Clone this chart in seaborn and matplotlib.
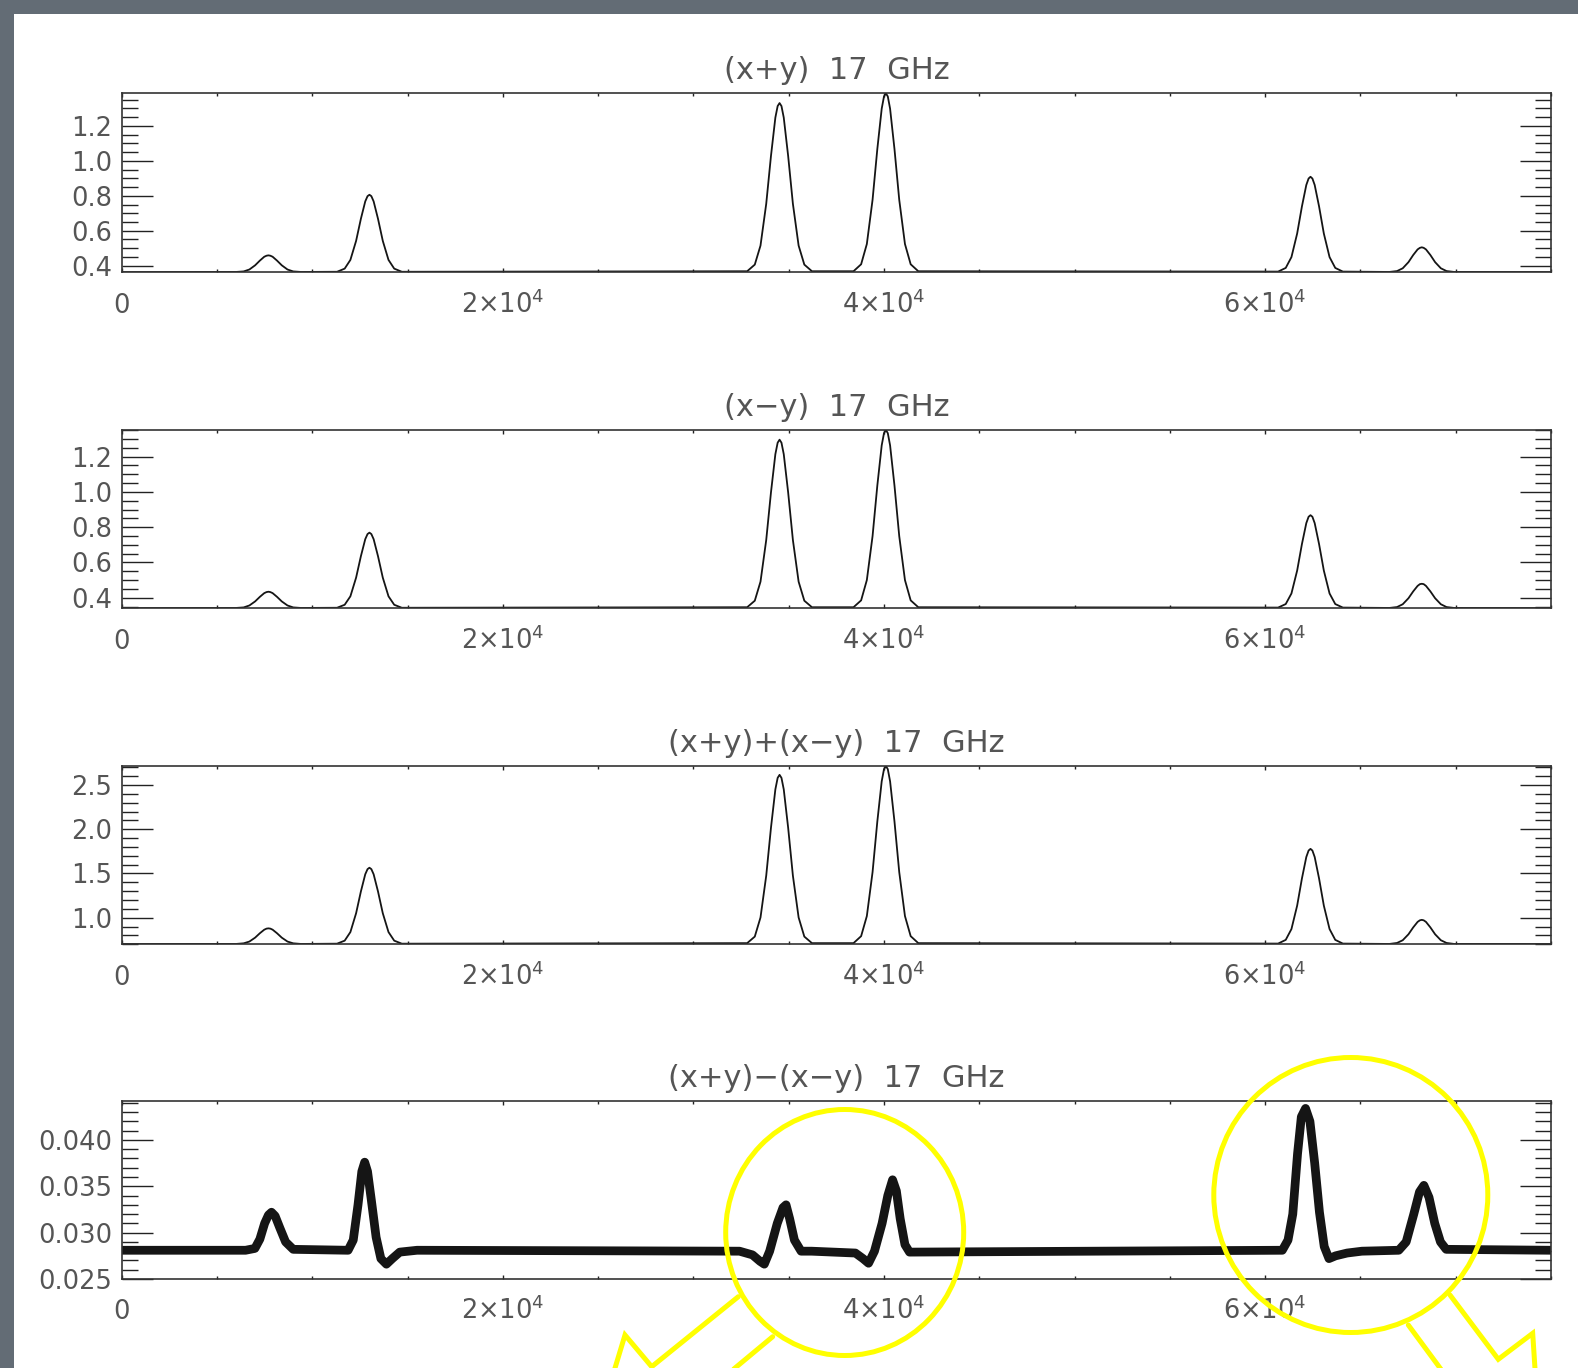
import matplotlib
matplotlib.use('Agg')
import matplotlib.pyplot as plt
import seaborn as sns
from matplotlib.ticker import FixedLocator, MultipleLocator
from matplotlib.patches import Rectangle, Ellipse
from matplotlib.lines import Line2D

sns.set_theme(style='ticks')
plt.rcParams['font.family'] = ['DejaVu Sans']
plt.rcParams['mathtext.default'] = 'regular'

# ---------------- data ----------------
titles = ['(x+y)  17  GHz', '(x\u2212y)  17  GHz',
          '(x+y)+(x\u2212y)  17  GHz', '(x+y)\u2212(x\u2212y)  17  GHz']

x_ticks = [0, 20000, 40000, 60000]
x_tick_labels = ['0', '2\u00d710$^{4}$', '4\u00d710$^{4}$', '6\u00d710$^{4}$']

x_main = [0,
          6000, 6400, 6700, 7000, 7250, 7480, 7600, 7700, 7800, 7920, 8150, 8400, 8700, 9000, 9400,
          11300, 11700, 12000, 12300, 12550, 12780, 12900, 13000, 13100, 13220, 13450, 13700, 14000, 14300, 14700,
          32820, 33220, 33520, 33820, 34070, 34300, 34420, 34520, 34620, 34740, 34970, 35220, 35520, 35820, 36220,
          38400, 38800, 39100, 39400, 39650, 39880, 40000, 40100, 40200, 40320, 40550, 40800, 41100, 41400, 41800,
          60680, 61080, 61380, 61680, 61930, 62160, 62280, 62380, 62480, 62600, 62830, 63080, 63380, 63680, 64080,
          66520, 66920, 67220, 67520, 67770, 68000, 68120, 68220, 68320, 68440, 68670, 68920, 69220, 69520, 69920,
          75000]

y_xpy = [0.363,
         0.364, 0.367, 0.378, 0.402, 0.429, 0.451, 0.457, 0.459, 0.457, 0.451, 0.429, 0.402, 0.378, 0.367, 0.364,
         0.365, 0.383, 0.433, 0.542, 0.668, 0.768, 0.798, 0.806, 0.798, 0.768, 0.668, 0.542, 0.433, 0.383, 0.365,
         0.368, 0.406, 0.515, 0.754, 1.029, 1.248, 1.314, 1.331, 1.314, 1.248, 1.029, 0.754, 0.515, 0.406, 0.368,
         0.368, 0.408, 0.524, 0.777, 1.068, 1.299, 1.369, 1.387, 1.369, 1.299, 1.068, 0.777, 0.524, 0.408, 0.368,
         0.366, 0.387, 0.449, 0.584, 0.739, 0.862, 0.899, 0.909, 0.899, 0.862, 0.739, 0.584, 0.449, 0.387, 0.366,
         0.364, 0.369, 0.385, 0.420, 0.461, 0.493, 0.502, 0.505, 0.502, 0.493, 0.461, 0.420, 0.385, 0.369, 0.364,
         0.363]

y_xmy = [0.341,
         0.342, 0.345, 0.356, 0.379, 0.405, 0.426, 0.432, 0.434, 0.432, 0.426, 0.405, 0.379, 0.356, 0.345, 0.342,
         0.343, 0.360, 0.408, 0.514, 0.635, 0.732, 0.761, 0.769, 0.761, 0.732, 0.635, 0.514, 0.408, 0.360, 0.343,
         0.346, 0.383, 0.491, 0.727, 0.998, 1.214, 1.279, 1.296, 1.279, 1.214, 0.998, 0.727, 0.491, 0.383, 0.346,
         0.346, 0.385, 0.500, 0.749, 1.036, 1.264, 1.333, 1.351, 1.333, 1.264, 1.036, 0.749, 0.500, 0.385, 0.346,
         0.344, 0.364, 0.424, 0.554, 0.704, 0.823, 0.859, 0.868, 0.859, 0.823, 0.704, 0.554, 0.424, 0.364, 0.344,
         0.342, 0.347, 0.363, 0.397, 0.436, 0.467, 0.477, 0.479, 0.477, 0.467, 0.436, 0.397, 0.363, 0.347, 0.342,
         0.341]

y_sum = [0.703,
         0.704, 0.711, 0.731, 0.775, 0.825, 0.865, 0.877, 0.880, 0.877, 0.865, 0.825, 0.775, 0.731, 0.711, 0.704,
         0.707, 0.741, 0.838, 1.051, 1.296, 1.491, 1.549, 1.565, 1.549, 1.491, 1.296, 1.051, 0.838, 0.741, 0.707,
         0.713, 0.787, 1.003, 1.475, 2.018, 2.450, 2.580, 2.614, 2.580, 2.450, 2.018, 1.475, 1.003, 0.787, 0.713,
         0.713, 0.792, 1.019, 1.515, 2.087, 2.541, 2.678, 2.714, 2.678, 2.541, 2.087, 1.515, 1.019, 0.792, 0.713,
         0.708, 0.750, 0.872, 1.137, 1.443, 1.686, 1.759, 1.778, 1.759, 1.686, 1.443, 1.137, 0.872, 0.750, 0.708,
         0.704, 0.715, 0.746, 0.813, 0.891, 0.953, 0.971, 0.976, 0.971, 0.953, 0.891, 0.813, 0.746, 0.715, 0.704,
         0.703]

x_diff = [0,
          6500, 6990, 7250, 7500, 7700, 7860, 8050, 8300, 8600, 9000,
          11880, 12150, 12400, 12600, 12750, 12900, 13100, 13350, 13600, 13890, 14200, 14590, 15500,
          32420, 33100, 33500, 33720, 34000, 34400, 34700, 34860, 35050, 35300, 35650, 36200,
          38500, 38900, 39190, 39500, 39900, 40200, 40450, 40650, 40850, 41100, 41340,
          60900, 61200, 61450, 61700, 61900, 62120, 62350, 62600, 62850, 63100, 63350, 63700, 64300, 65080,
          67010, 67400, 67800, 68100, 68330, 68600, 68900, 69200, 69500,
          75000]
y_diff = [0.0281,
          0.0281, 0.0283, 0.0293, 0.0310, 0.0319, 0.0322, 0.0318, 0.0305, 0.0290, 0.0282,
          0.0281, 0.0292, 0.0330, 0.0366, 0.0376, 0.0366, 0.0335, 0.0295, 0.0272, 0.0266, 0.0272, 0.0279, 0.0281,
          0.0280, 0.0276, 0.0269, 0.0266, 0.0280, 0.0310, 0.0327, 0.0330, 0.0315, 0.0292, 0.0280, 0.0280,
          0.0278, 0.0272, 0.0267, 0.0280, 0.0310, 0.0340, 0.0357, 0.0345, 0.0315, 0.0287, 0.0279,
          0.0281, 0.0292, 0.0320, 0.0385, 0.0425, 0.0434, 0.0420, 0.0375, 0.0322, 0.0285, 0.0272, 0.0275, 0.0278, 0.0280,
          0.0281, 0.0290, 0.0320, 0.0344, 0.0351, 0.0338, 0.0310, 0.0290, 0.0282,
          0.0281]

y_ticks_a = [0.4, 0.6, 0.8, 1.0, 1.2]
y_labels_a = ['0.4', '0.6', '0.8', '1.0', '1.2']
y_ticks_c = [1.0, 1.5, 2.0, 2.5]
y_labels_c = ['1.0', '1.5', '2.0', '2.5']
y_ticks_d = [0.025, 0.030, 0.035, 0.040]
y_labels_d = ['0.025', '0.030', '0.035', '0.040']

# ---------------- layout ----------------
W, H = 1578, 1368
fig = plt.figure(figsize=(W / 100, H / 100), dpi=100)
fig.patch.set_facecolor('#636c75')
fig.add_artist(Rectangle((14 / W, 0), 1 - 14 / W, 1 - 14 / H, transform=fig.transFigure,
                         facecolor='white', edgecolor='none', zorder=-5))

left = 121.7 / W
width = (1551 - 121.7) / W
bounds = [(93.3, 272.3), (430, 608.3), (766, 944.3), (1101, 1279)]

panels = [
    dict(x=x_main, y=y_xpy, ylim=(0.362, 1.387), yt=y_ticks_a, yl=y_labels_a, minor=0.05, lw=1.3),
    dict(x=x_main, y=y_xmy, ylim=(0.340, 1.351), yt=y_ticks_a, yl=y_labels_a, minor=0.05, lw=1.3),
    dict(x=x_main, y=y_sum, ylim=(0.700, 2.714), yt=y_ticks_c, yl=y_labels_c, minor=0.1, lw=1.3),
    dict(x=x_diff, y=y_diff, ylim=(0.025, 0.0442), yt=y_ticks_d, yl=y_labels_d, minor=0.001, lw=6.3),
]

for (top, bot), p, title in zip(bounds, panels, titles):
    ax = fig.add_axes([left, 1 - bot / H, width, (bot - top) / H])
    ax.set_facecolor('white')
    sns.lineplot(x=p['x'], y=p['y'], ax=ax, color='#151515', linewidth=p['lw'],
                 estimator=None, sort=False, solid_joinstyle='round')
    ax.set_xlim(0, 75000)
    ax.set_ylim(*p['ylim'])
    ax.xaxis.set_major_locator(FixedLocator(x_ticks))
    ax.set_xticklabels(x_tick_labels)
    ax.xaxis.set_minor_locator(MultipleLocator(5000))
    ax.yaxis.set_major_locator(FixedLocator(p['yt']))
    ax.set_yticklabels(p['yl'])
    ax.yaxis.set_minor_locator(MultipleLocator(p['minor']))
    ax.set_xlabel('')
    ax.set_ylabel('')
    ax.tick_params(axis='both', which='both', direction='in', top=True, right=True,
                   bottom=True, left=True, color='#222222', labelcolor='#555555',
                   labelsize=18.5, width=1.0)
    ax.tick_params(axis='y', which='major', length=22, pad=7)
    ax.tick_params(axis='y', which='minor', length=11.5)
    ax.tick_params(axis='x', which='major', length=3, pad=29)
    ax.tick_params(axis='x', which='minor', length=2)
    for lbl in ax.get_xticklabels():
        lbl.set_va('baseline')
    for s in ax.spines.values():
        s.set_color('#333333')
        s.set_linewidth(1.2)
    ax.set_title(title, fontsize=22, color='#555555', pad=10)

# ---------------- yellow annotation ----------------
def P(px, py):
    return (px / 100, (H - py) / 100)

yellow = '#ffff00'
fig.add_artist(Ellipse(P(844.7, 1232.5), 2.38, 2.46, transform=fig.dpi_scale_trans,
                       fill=False, edgecolor=yellow, lw=3.6, zorder=10))
fig.add_artist(Ellipse(P(1350.8, 1195), 2.74, 2.75, transform=fig.dpi_scale_trans,
                       fill=False, edgecolor=yellow, lw=3.6, zorder=10))
paths = [
    [(612, 1378), (625, 1335), (651.7, 1366.7), (738.3, 1296.7)],
    [(772.7, 1336.7), (723, 1378)],
    [(1450, 1295), (1498.3, 1359.3), (1532.7, 1333.3), (1535.6, 1378)],
    [(1408.3, 1325), (1447.4, 1378)],
]
for path in paths:
    pts = [P(a, b) for a, b in path]
    fig.add_artist(Line2D([q[0] for q in pts], [q[1] for q in pts], transform=fig.dpi_scale_trans,
                          color=yellow, lw=3.6, solid_joinstyle='miter', zorder=10))

fig.savefig('out.png', dpi=100, facecolor=fig.get_facecolor())
